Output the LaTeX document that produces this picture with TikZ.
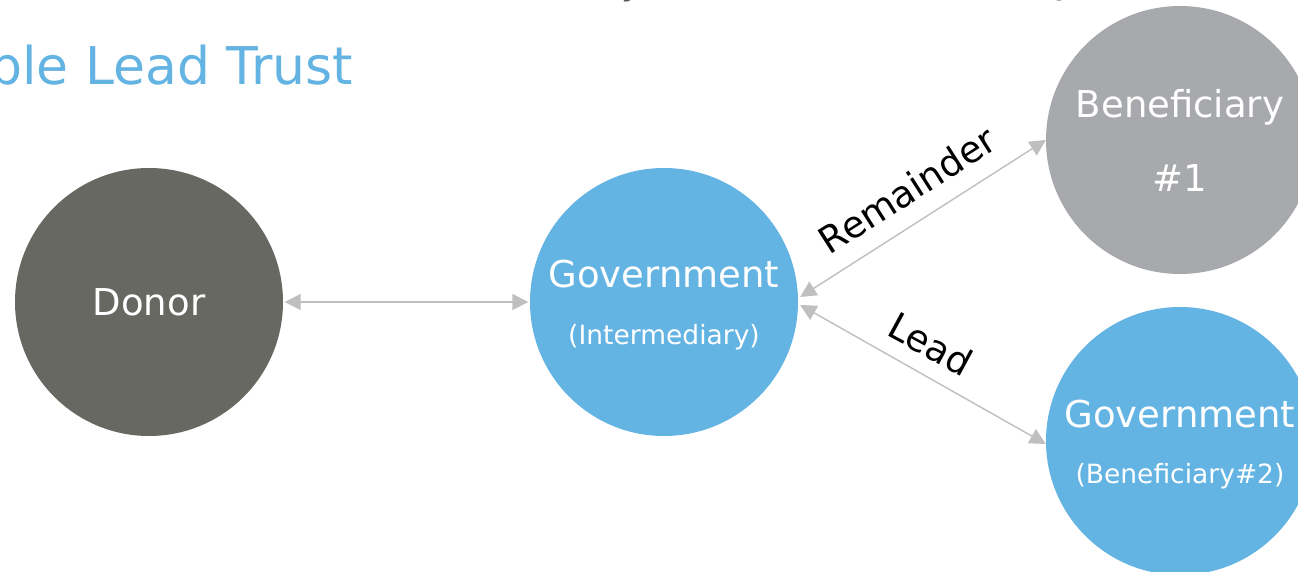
\documentclass[tikz,border=0pt]{standalone}
\usepackage{fontspec}
\setmainfont{DejaVu Sans}
\usetikzlibrary{arrows.meta}
\definecolor{cblue}{HTML}{63B3E3}
\definecolor{cdonor}{HTML}{686863}
\definecolor{cgrey}{HTML}{A7A9AC}
\definecolor{carrow}{HTML}{BFBFBF}
\definecolor{ctop}{HTML}{595959}
\tikzset{
  disc/.style={circle, minimum size=268pt, inner sep=0pt, draw=none},
  bigtxt/.style={text=white, inner sep=0pt, font=\fontsize{37}{40}\selectfont},
  smalltxt/.style={text=white, inner sep=0pt, font=\fontsize{26.5}{30}\selectfont},
  flow/.style={draw=carrow, line width=1.4pt, {Triangle[length=16pt,width=16pt]}-{Triangle[length=16pt,width=16pt]}},
  edgelbl/.style={text=black, inner sep=0pt, font=\fontsize{37}{40}\selectfont},
}
\begin{document}
\begin{tikzpicture}[x=1pt,y=-1pt]
\useasboundingbox (0,0) rectangle (1298,572);
\clip (0,0) rectangle (1298,572);
\fill[white] (0,0) rectangle (1298,572);
% title (cut off at left)
\node[anchor=base east, inner sep=0pt, text=cblue, font=\fontsize{52}{60}\selectfont] (title) at (353,85) {Charitable Lead Trust};
% cut-off text at top
\node[anchor=base west, inner sep=0pt, text=ctop, font=\fontsize{36}{40}\selectfont] (topa) at (621,-5) {y};
\node[anchor=base west, inner sep=0pt, text=ctop, font=\fontsize{36}{40}\selectfont] (topb) at (1054,-6) {y};
% circles
\node[disc, fill=cdonor] (donor) at (149,302) {};
\node[disc, fill=cblue] (govI) at (664,302) {};
\node[disc, fill=cgrey] (ben1) at (1180,140) {};
\node[disc, fill=cblue] (gov2) at (1180,441) {};
% texts
\node[bigtxt] (donortxt) at (149,302) {Donor};
\node[bigtxt] (govItxt) at (664,274) {Government};
\node[smalltxt] (govIsub) at (664,337) {(Intermediary)};
\node[bigtxt] (ben1txt) at (1180,107) {Beneficiary};
\node[bigtxt] (ben1sub) at (1180,178) {\#1};
\node[bigtxt] (gov2txt) at (1180,414) {Government};
\node[smalltxt] (gov2sub) at (1180,476) {(Beneficiary\#2)};
% connectors
\draw[flow, shorten <=1.5pt, shorten >=1.5pt] (donor.east) -- (govI.west);
\coordinate (gA) at ([yshift=5pt,xshift=2pt]govI.east);
\coordinate (gB) at ([yshift=-3pt,xshift=2pt]govI.east);
\draw[flow] (gA) -- (ben1.west);
\draw[flow] (gB) -- ([yshift=-3pt]gov2.west);
% edge labels
\node[edgelbl, rotate=32.6] (remlbl) at (907,190) {Remainder};
\node[edgelbl, rotate=-28.5] (leadlbl) at (931,344) {Lead};
\end{tikzpicture}
\end{document}
